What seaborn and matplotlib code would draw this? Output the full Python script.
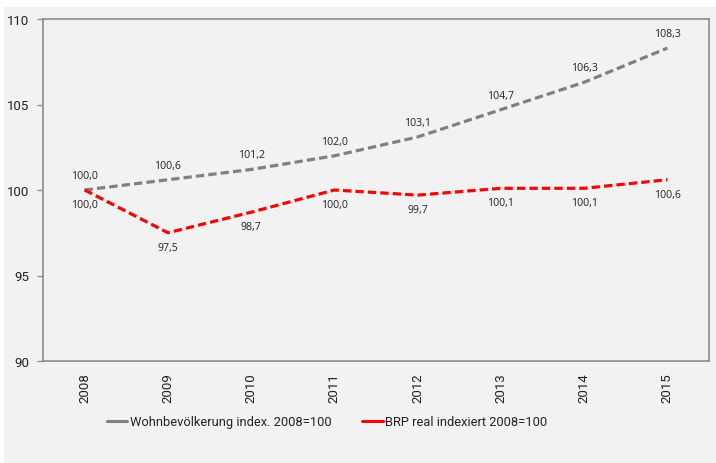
import pandas as pd
import seaborn as sns
import matplotlib.pyplot as plt
from matplotlib.lines import Line2D
from matplotlib.patches import Rectangle

# Data
years = ['2008', '2009', '2010', '2011', '2012', '2013', '2014', '2015']
wohnbev = [100.0, 100.6, 101.2, 102.0, 103.1, 104.7, 106.3, 108.3]
brp = [100.0, 97.5, 98.7, 100.0, 99.7, 100.1, 100.1, 100.6]
name_wohn = 'Wohnbevölkerung index. 2008=100'
name_brp = 'BRP real indexiert 2008=100'

df = pd.DataFrame({
    'pos': list(range(len(years))) * 2,
    'value': wohnbev + brp,
    'series': [name_wohn] * len(years) + [name_brp] * len(years),
})

sns.set_style('white')
plt.rcParams['font.family'] = ['Roboto', 'DejaVu Sans']

fig = plt.figure(figsize=(7.16, 4.64), dpi=100, facecolor='white')
# light gray panel behind everything
fig.patches.append(Rectangle((4 / 716, 0), 1, 1 - 8 / 464, transform=fig.transFigure,
                             facecolor='#f2f2f2', edgecolor='none', zorder=-10))
ax = fig.add_axes([43 / 716, 1 - 362 / 464, 666 / 716, 342 / 464])
ax.set_facecolor('#f2f2f2')

palette = {name_wohn: '#808080', name_brp: '#ff0000'}
sns.lineplot(data=df, x='pos', y='value', hue='series', style='series',
             palette=palette, dashes={name_wohn: (2.6, 1.3), name_brp: (2.6, 1.3)},
             linewidth=2.3, legend=False, ax=ax)

# Data labels
for i, v in enumerate(wohnbev):
    ax.annotate(f'{v:.1f}'.replace('.', ','), (i, v), xytext=(0, 10.5), textcoords='offset points',
                ha='center', va='center', fontsize=7.6, family='Open Sans', color='#222222')
for i, v in enumerate(brp):
    ax.annotate(f'{v:.1f}'.replace('.', ','), (i, v), xytext=(0, -10.5), textcoords='offset points',
                ha='center', va='center', fontsize=7.6, family='Open Sans', color='#222222')

ax.set_xlim(-0.5, len(years) - 0.5)
ax.set_ylim(90, 110)
ax.set_yticks([90, 95, 100, 105, 110])
ax.set_xticks(range(len(years)))
ax.set_xticklabels(years, rotation=90)
ax.set_xticks([i + 0.5 for i in range(len(years) - 1)], minor=True)
ax.tick_params(axis='x', which='major', length=0, pad=8, labelsize=9.5, colors='#222222')
ax.tick_params(axis='x', which='minor', direction='in', length=5, color='#8c8c8c', width=1)
ax.tick_params(axis='y', left=True, length=4, width=1, color='#8c8c8c', labelsize=9.5,
               labelcolor='#222222', pad=6)
ax.set_xlabel('')
ax.set_ylabel('')
for s in ax.spines.values():
    s.set_visible(True)
    s.set_color('#8c8c8c')
    s.set_linewidth(1.2)

# solid legend keys, as in the reference
handles = [Line2D([0, 1], [0, 0], color='#808080', lw=2.2, linestyle='solid'),
           Line2D([0, 1], [0, 0], color='#ff0000', lw=2.2, linestyle='solid')]
fig.legend(handles, [name_wohn, name_brp], loc='center', bbox_to_anchor=(327 / 716, 1 - 423 / 464),
           ncol=2, frameon=False, fontsize=9.3, handlelength=1.6, handletextpad=0.2,
           columnspacing=2.35, labelcolor='#222222')

fig.savefig('out.png', dpi=100, facecolor=fig.get_facecolor())
